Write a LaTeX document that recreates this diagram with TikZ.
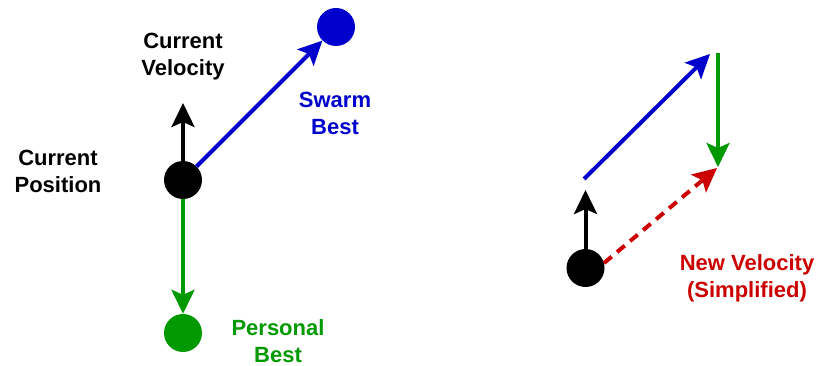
\documentclass[tikz,border=0pt]{standalone}
\usepackage{fontspec}
\setmainfont{Liberation Sans}
\usetikzlibrary{arrows.meta}
\definecolor{cblue}{RGB}{0,0,204}
\definecolor{cgreen}{RGB}{0,153,0}
\definecolor{cred}{RGB}{204,0,0}
\tikzset{
  dot/.style={circle,minimum size=38pt,inner sep=0pt,fill=#1},
  vec/.style={line width=4pt,draw=#1,-{Stealth[length=24pt,width=23pt,inset=5pt,fill=#1]}},
  lbl/.style={align=center,text=#1,font=\bfseries\fontsize{22}{27}\selectfont},
}
\begin{document}
\begin{tikzpicture}[x=1pt,y=-1pt]
\useasboundingbox (0,0) rectangle (817,366);
% left part
\node[dot=black] (cp) at (183,180) {};
\node[dot=cblue] (sb) at (336,27) {};
\node[dot=cgreen] (pb) at (183,333) {};
\coordinate (cv) at (183,103);
\draw[vec=black] (cp) -- (cv);
\draw[vec=cblue] (cp) -- (sb);
\draw[vec=cgreen] (cp) -- (pb);
\node[lbl=black] (lcv) at (183,57) {Current\\Velocity};
\node[lbl=cblue] (lsb) at (335,113) {Swarm\\Best};
\node[lbl=black] (lcp) at (58,171) {Current\\Position};
\node[lbl=cgreen] (lpb) at (278,341) {Personal\\Best};
% right part
\node[dot=black] (cp2) at (585.5,268) {};
\coordinate (v2) at (585.5,190);
\coordinate (bs) at (584,179);
\coordinate (be) at (710,54);
\coordinate (gs) at (718,53);
\coordinate (ge) at (718,167);
\coordinate (nv) at (717,168);
\draw[vec=black] (cp2) -- (v2);
\draw[vec=cblue] (bs) -- (be);
\draw[vec=cgreen] (gs) -- (ge);
\draw[vec=cred,dash pattern=on 10pt off 7pt] (cp2.15) -- (nv);
\node[lbl=cred] (lnv) at (747,278) {New Velocity\\(Simplified)};
\end{tikzpicture}
\end{document}
